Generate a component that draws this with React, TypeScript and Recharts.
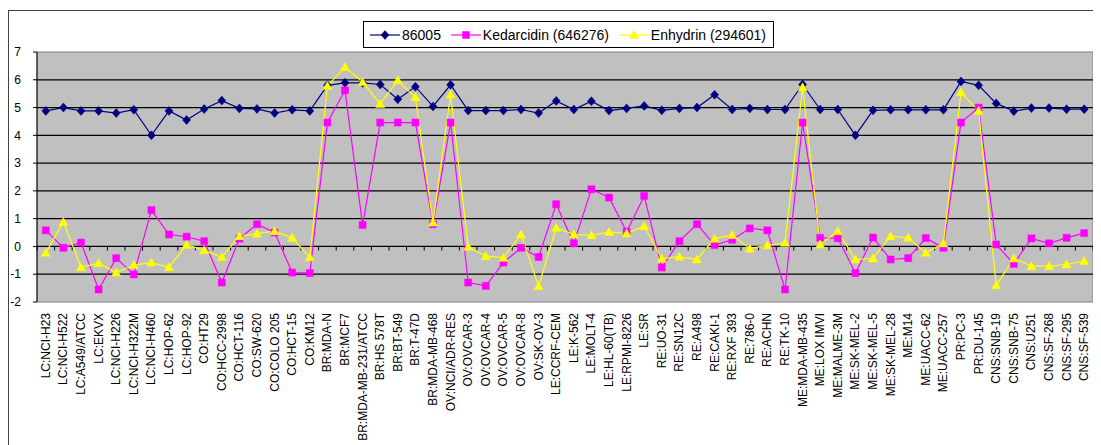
import React from 'react';
import { LineChart, Line, XAxis, YAxis, ReferenceLine, ReferenceArea } from 'recharts';

const categories = [
  'LC:NCI-H23', 'LC:NCI-H522', 'LC:A549/ATCC', 'LC:EKVX', 'LC:NCI-H226', 'LC:NCI-H322M', 'LC:NCI-H460',
  'LC:HOP-62', 'LC:HOP-92', 'CO:HT29', 'CO:HCC-2998', 'CO:HCT-116', 'CO:SW-620', 'CO:COLO 205',
  'CO:HCT-15', 'CO:KM12', 'BR:MDA-N', 'BR:MCF7', 'BR:MDA-MB-231/ATCC', 'BR:HS 578T', 'BR:BT-549',
  'BR:T-47D', 'BR:MDA-MB-468', 'OV:NCI/ADR-RES', 'OV:OVCAR-3', 'OV:OVCAR-4', 'OV:OVCAR-5',
  'OV:OVCAR-8', 'OV:SK-OV-3', 'LE:CCRF-CEM', 'LE:K-562', 'LE:MOLT-4', 'LE:HL-60(TB)', 'LE:RPMI-8226',
  'LE:SR', 'RE:UO-31', 'RE:SN12C', 'RE:A498', 'RE:CAKI-1', 'RE:RXF 393', 'RE:786-0', 'RE:ACHN',
  'RE:TK-10', 'ME:MDA-MB-435', 'ME:LOX IMVI', 'ME:MALME-3M', 'ME:SK-MEL-2', 'ME:SK-MEL-5',
  'ME:SK-MEL-28', 'ME:M14', 'ME:UACC-62', 'ME:UACC-257', 'PR:PC-3', 'PR:DU-145', 'CNS:SNB-19',
  'CNS:SNB-75', 'CNS:U251', 'CNS:SF-268', 'CNS:SF-295', 'CNS:SF-539',
];

const series86005 = [
  4.88, 5.0, 4.88, 4.88, 4.8, 4.92, 4.0, 4.88, 4.55, 4.95,
  5.25, 4.97, 4.95, 4.8, 4.92, 4.88, 5.8, 5.89, 5.89, 5.83,
  5.3, 5.75, 5.04, 5.82, 4.89, 4.89, 4.89, 4.93, 4.8, 5.24,
  4.93, 5.23, 4.89, 4.97, 5.06, 4.9, 4.97, 5.0, 5.46, 4.93,
  4.97, 4.93, 4.93, 5.83, 4.93, 4.93, 4.0, 4.9, 4.92, 4.92,
  4.92, 4.92, 5.94, 5.8, 5.15, 4.87, 4.98, 4.98, 4.94, 4.94,
];

const kedarcidin = [
  0.58, -0.05, 0.14, -1.55, -0.42, -1.01, 1.31, 0.43, 0.35, 0.19,
  -1.3, 0.28, 0.8, 0.5, -0.94, -0.96, 4.46, 5.62, 0.77, 4.46,
  4.46, 4.46, 0.8, 4.46, -1.3, -1.42, -0.58, -0.05, -0.38, 1.52,
  0.11, 2.06, 1.76, 0.53, 1.82, -0.76, 0.19, 0.8, 0.05, 0.24,
  0.65, 0.58, -1.55, 4.46, 0.31, 0.3, -0.96, 0.32, -0.47, -0.42,
  0.3, -0.05, 4.46, 5.0, 0.07, -0.63, 0.29, 0.11, 0.31, 0.48,
];

const enhydrin = [
  -0.23, 0.88, -0.75, -0.6, -0.94, -0.67, -0.58, -0.75, 0.06, -0.14,
  -0.39, 0.37, 0.46, 0.55, 0.31, -0.39, 5.78, 6.46, 5.92, 5.13,
  5.98, 5.37, 0.86, 5.47, -0.01, -0.35, -0.41, 0.43, -1.43, 0.67,
  0.43, 0.4, 0.52, 0.47, 0.73, -0.44, -0.37, -0.47, 0.28, 0.41,
  -0.08, 0.04, 0.13, 5.73, 0.07, 0.55, -0.47, -0.43, 0.37, 0.31,
  -0.23, 0.11, 5.55, 4.88, -1.4, -0.43, -0.71, -0.71, -0.65, -0.52,
];

const seriesNames = ['86005', 'Kedarcidin (646276)', 'Enhydrin (294601)'];
const yTicks = [-2, -1, 0, 1, 2, 3, 4, 5, 6, 7];
const gridValues = [-1, 1, 2, 3, 4, 5, 6];

const data = categories.map((name, i) => ({
  name,
  a: series86005[i],
  k: kedarcidin[i],
  e: enhydrin[i],
}));

const NAVY = '#000080';
const MAGENTA = '#FF00FF';
const YELLOW = '#FFFF00';
const FONT = '"Liberation Sans", Arial, sans-serif';

const diamondPath = (cx: number, cy: number) =>
  `M${cx},${cy - 4.5}L${cx + 4},${cy}L${cx},${cy + 4.5}L${cx - 4},${cy}Z`;
const squarePath = (cx: number, cy: number) =>
  `M${cx - 3.5},${cy - 3.5}H${cx + 3.5}V${cy + 3.5}H${cx - 3.5}Z`;
const trianglePath = (cx: number, cy: number) =>
  `M${cx},${cy - 4.5}L${cx + 4.5},${cy + 3.5}L${cx - 4.5},${cy + 3.5}Z`;

const makeDot = (pathFn: (x: number, y: number) => string, color: string) => (props: any) => {
  const { cx, cy, index } = props;
  if (cx == null || cy == null) return <g key={`d-${index}`} />;
  return <path key={`d-${index}`} d={pathFn(cx, cy)} fill={color} stroke={color} strokeWidth={0.5} />;
};

const DiamondDot = makeDot(diamondPath, NAVY);
const SquareDot = makeDot(squarePath, MAGENTA);
const TriangleDot = makeDot(trianglePath, YELLOW);

const ZeroLine = (props: any) => {
  const { x1, y1, x2, y2 } = props;
  const n = categories.length;
  const step = (x2 - x1) / n;
  const ticks = [];
  for (let i = 0; i <= n; i++) {
    const x = x1 + i * step;
    ticks.push(<line key={i} x1={x} y1={y1} x2={x} y2={y1 + 4} stroke="#000" strokeWidth={1} />);
  }
  return (
    <g>
      <line x1={x1} y1={y1} x2={x2} y2={y2} stroke="#000" strokeWidth={1.2} />
      {ticks}
    </g>
  );
};

const XTick = (props: any) => {
  const { x, y, payload } = props;
  return (
    <text
      x={x}
      y={y}
      transform={`rotate(-90 ${x} ${y})`}
      textAnchor="end"
      dominantBaseline="central"
      fontSize={12}
      fontFamily={FONT}
      fill="#000"
    >
      {payload.value}
    </text>
  );
};

const LegendSwatch = ({ kind, color }: { kind: string; color: string }) => {
  const path = kind === 'diamond' ? diamondPath(15, 7) : kind === 'square' ? squarePath(15, 7) : trianglePath(15, 7);
  return (
    <svg width={30} height={14} style={{ display: 'block' }}>
      <line x1={0} y1={7} x2={30} y2={7} stroke={color} strokeWidth={1.2} />
      <path d={path} fill={color} stroke={color} strokeWidth={0.5} />
    </svg>
  );
};

export default function App() {
  const legendItems = [
    { name: seriesNames[0], kind: 'diamond', color: NAVY },
    { name: seriesNames[1], kind: 'square', color: MAGENTA },
    { name: seriesNames[2], kind: 'triangle', color: YELLOW },
  ];
  return (
    <div style={{ position: 'relative', width: 1093, height: 437 }}>
      <div
        style={{
          position: 'absolute',
          left: 0,
          top: 2,
          width: 1089,
          height: 445,
          border: '1px solid #404040',
          background: '#fff',
          boxSizing: 'border-box',
        }}
      />
      <div style={{ position: 'absolute', left: -8, top: -8 }}>
        <LineChart width={1101} height={445} data={data} margin={{ top: 52, right: 8, bottom: 0, left: 0 }}>
          <ReferenceArea y1={-2} y2={7} fill="#C0C0C0" fillOpacity={1} stroke="#808080" strokeWidth={1} />
          {gridValues.map((v) => (
            <ReferenceLine key={v} y={v} stroke="#000" strokeWidth={1.2} />
          ))}
          <ReferenceLine y={0} shape={ZeroLine} />
          <XAxis
            dataKey="name"
            scale="band"
            interval={0}
            height={143}
            axisLine={false}
            tickLine={false}
            tick={<XTick />}
            tickMargin={5}
          />
          <YAxis
            type="number"
            domain={[-2, 7]}
            ticks={yTicks}
            interval={0}
            width={37}
            axisLine={{ stroke: '#000' }}
            tickLine={{ stroke: '#000' }}
            tickSize={4}
            tickMargin={12}
            tick={{ fontSize: 12, fill: '#000', fontFamily: FONT }}
          />
          <Line dataKey="a" name={seriesNames[0]} stroke={NAVY} strokeWidth={1.2} dot={DiamondDot} activeDot={false} isAnimationActive={false} />
          <Line dataKey="k" name={seriesNames[1]} stroke={MAGENTA} strokeWidth={1.2} dot={SquareDot} activeDot={false} isAnimationActive={false} />
          <Line dataKey="e" name={seriesNames[2]} stroke={YELLOW} strokeWidth={1.2} dot={TriangleDot} activeDot={false} isAnimationActive={false} />
        </LineChart>
      </div>
      <div
        style={{
          position: 'absolute',
          left: 355,
          top: 13,
          width: 411,
          height: 27,
          border: '1px solid #000',
          background: '#fff',
          display: 'flex',
          alignItems: 'center',
          justifyContent: 'space-between',
          padding: '0 7px 0 6px',
          boxSizing: 'border-box',
          fontFamily: FONT,
          fontSize: 14,
          color: '#000',
          whiteSpace: 'nowrap',
        }}
      >
        {legendItems.map((it) => (
          <div key={it.name} style={{ display: 'flex', alignItems: 'center' }}>
            <LegendSwatch kind={it.kind} color={it.color} />
            <span style={{ marginLeft: 2 }}>{it.name}</span>
          </div>
        ))}
      </div>
    </div>
  );
}
